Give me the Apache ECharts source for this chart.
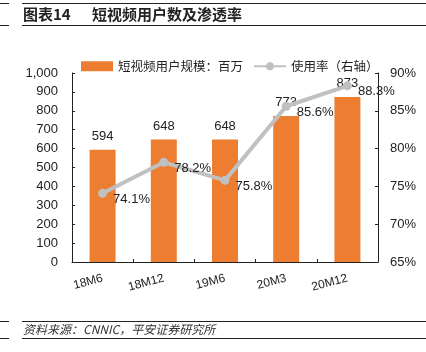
<!DOCTYPE html>
<html>
<head>
<meta charset="utf-8">
<script src="https://cdn.jsdelivr.net/npm/echarts@6/dist/echarts.min.js"></script>
<style>
  html, body { margin: 0; padding: 0; background: #fff; }
  #chart { width: 426px; height: 352px; }
</style>
</head>
<body>
<div id="chart"></div>
<script>
  var categories = ['18M6', '18M12', '19M6', '20M3', '20M12'];
  var users = [594, 648, 648, 773, 873];
  var usageRate = [74.1, 78.2, 75.8, 85.6, 88.3];
  var leftTicks = { min: 0, max: 1000, interval: 100 };
  var rightTicks = { min: 65, max: 90, interval: 5 };

  var font = '"Liberation Sans", Arial, "Noto Sans CJK SC", sans-serif';
  var cjk = '"Noto Sans CJK SC", sans-serif';
  var chart = echarts.init(document.getElementById('chart'));

  // thin black rules above/below the header and the source note
  function rule(y) {
    return [
      { type: 'line', shape: { x1: 0, y1: y, x2: 9, y2: y }, style: { stroke: '#222', lineWidth: 1 } },
      { type: 'line', shape: { x1: 22, y1: y, x2: 426, y2: y }, style: { stroke: '#222', lineWidth: 1 } }
    ];
  }

  var option = {
    animation: false,
    textStyle: { fontFamily: font },
    graphic: [].concat(rule(3.5), rule(25.5), rule(321.5), rule(338.5), [
      { type: 'text', left: 23, top: 7, style: { text: '图表14', font: 'bold 15px ' + cjk, fill: '#222' } },
      { type: 'text', left: 92, top: 7, style: { text: '短视频用户数及渗透率', font: 'bold 15px ' + cjk, fill: '#222' } },
      { type: 'text', left: 23, top: 323, style: { text: '资料来源：CNNIC，平安证券研究所', font: 'italic 12px ' + cjk, fill: '#333' } }
    ]),
    legend: {
      top: 55,
      left: 76,
      itemGap: 10,
      itemWidth: 32,
      itemHeight: 10,
      textStyle: { fontSize: 12.5, color: '#222', fontFamily: cjk },
      data: [
        { name: '短视频用户规模：百万', icon: 'rect' },
        { name: '使用率（右轴）' }
      ]
    },
    grid: { left: 72, right: 48, top: 73, bottom: 90 },
    xAxis: {
      type: 'category',
      data: categories,
      axisLine: { lineStyle: { color: '#222', width: 1 } },
      axisTick: { show: true, inside: true, length: 3, lineStyle: { color: '#222' } },
      axisLabel: { rotate: 15, margin: 16, fontSize: 12, color: '#222' }
    },
    yAxis: [{
      type: 'value',
      min: leftTicks.min,
      max: leftTicks.max,
      interval: leftTicks.interval,
      splitLine: { show: false },
      axisLine: { show: true, lineStyle: { color: '#222' } },
      axisTick: { show: true, inside: true, length: 3, lineStyle: { color: '#222' } },
      axisLabel: {
        margin: 14, fontSize: 13, color: '#222',
        formatter: function(v) { return v.toLocaleString('en-US'); }
      }
    }, {
      type: 'value',
      min: rightTicks.min,
      max: rightTicks.max,
      interval: rightTicks.interval,
      splitLine: { show: false },
      axisLine: { show: true, lineStyle: { color: '#222' } },
      axisTick: { show: true, inside: true, length: 3, lineStyle: { color: '#222' } },
      axisLabel: { margin: 12, fontSize: 13, color: '#222', formatter: '{value}%' }
    }],
    series: [{
      name: '短视频用户规模：百万',
      type: 'bar',
      data: users,
      barWidth: 26,
      itemStyle: { color: '#ED7D31' },
      label: { show: true, position: 'top', distance: 7, fontSize: 13, color: '#222' }
    }, {
      name: '使用率（右轴）',
      type: 'line',
      yAxisIndex: 1,
      data: usageRate,
      symbol: 'circle',
      symbolSize: 9,
      lineStyle: { color: '#C0C0C0', width: 4 },
      itemStyle: { color: '#C0C0C0' },
      label: {
        show: true, position: 'right', distance: 6, offset: [0, 6],
        fontSize: 13, color: '#222', formatter: '{c}%'
      }
    }]
  };

  chart.setOption(option);
</script>
</body>
</html>
